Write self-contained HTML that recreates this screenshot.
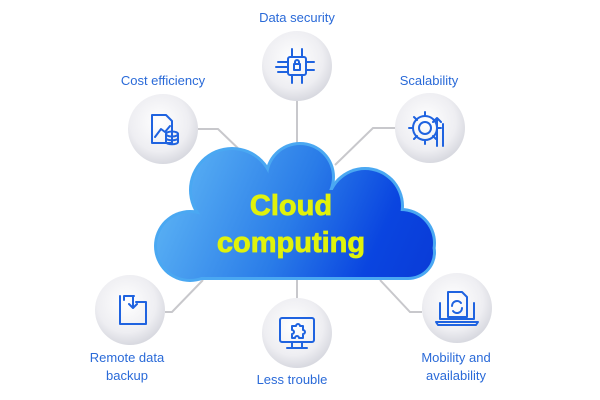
<!DOCTYPE html>
<html><head><meta charset="utf-8"><style>
body{margin:0;background:#fff;width:600px;height:400px;overflow:hidden}
svg{display:block}
.lb{font-family:"Liberation Sans",sans-serif;font-size:13px;fill:#2a6ad8;text-anchor:middle}
.ic{fill:none;stroke:#1f63e0;stroke-width:2;stroke-linecap:round;stroke-linejoin:round}
</style></head><body>
<svg width="600" height="400" viewBox="0 0 600 400">
<defs>
<radialGradient id="cg" cx="0.45" cy="0.4" r="0.6">
<stop offset="0" stop-color="#ffffff"/><stop offset="0.7" stop-color="#eeeef2"/><stop offset="1" stop-color="#d8d9e0"/>
</radialGradient>
<linearGradient id="bg" x1="160" y1="150" x2="430" y2="270" gradientUnits="userSpaceOnUse">
<stop offset="0" stop-color="#62baf6"/><stop offset="0.5" stop-color="#2a7ce8"/><stop offset="0.8" stop-color="#0a45e0"/><stop offset="1" stop-color="#0a3cd8"/>
</linearGradient>
</defs>
<g stroke="#c8c8cc" stroke-width="2" fill="none">
<polyline points="198,129 218,129 245,155"/>
<line x1="297" y1="101" x2="297" y2="150"/>
<polyline points="395,128 373,128 335,165"/>
<polyline points="165,312 172,312 203,280"/>
<line x1="297" y1="275" x2="297" y2="298"/>
<polyline points="380,280 410,312 422,312"/>
</g>
<g fill="#4aa8f2">
<circle cx="190" cy="246" r="36"/><circle cx="232" cy="190" r="43"/><circle cx="300" cy="177" r="35"/><circle cx="365" cy="206" r="39"/><circle cx="401" cy="243" r="35"/><rect x="157" y="225" width="279" height="55" rx="28"/><rect x="200" y="190" width="180" height="60"/>
</g>
<g fill="url(#bg)">
<circle cx="190" cy="246" r="33"/><circle cx="232" cy="190" r="40"/><circle cx="300" cy="177" r="32"/><circle cx="365" cy="206" r="36"/><circle cx="401" cy="243" r="32"/><rect x="160" y="228" width="273" height="49" rx="25"/><rect x="200" y="190" width="180" height="60"/>
</g>
<text x="291" y="215" font-family="Liberation Sans,sans-serif" font-weight="bold" font-size="29" fill="#e0f20c" text-anchor="middle" stroke="#e0f20c" stroke-width="0.8">Cloud</text>
<text x="291" y="252" font-family="Liberation Sans,sans-serif" font-weight="bold" font-size="29" fill="#e0f20c" text-anchor="middle" stroke="#e0f20c" stroke-width="0.8">computing</text>
<g fill="url(#cg)">
<circle cx="297" cy="66" r="35"/><circle cx="163" cy="129" r="35"/><circle cx="430" cy="128" r="35"/>
<circle cx="130" cy="310" r="35"/><circle cx="297" cy="333" r="35"/><circle cx="457" cy="308" r="35"/>
</g>
<g class="ic">
<rect x="288" y="57" width="18" height="18" rx="2"/><rect x="294" y="64" width="6" height="6"/><path d="M295 64v-2a2 2 0 0 1 4 0v2"/>
<path d="M292 57v-8M302 57v-8M292 75v8M302 75v8M278 62h10M276 67h12M278 72h10M306 62h8M306 70h8"/>
<path d="M152 115h14l6 6v22h-20z"/><path d="M155 137l6-8 4 3 5-6"/><ellipse cx="172" cy="134" rx="6" ry="2.5"/><path d="M166 134v8c0 3 12 3 12 0v-8M166 138c0 3 12 3 12 0"/>
<circle cx="425" cy="128" r="6"/><path d="M425 112v4M425 140v4M409 128h4M437 128h4M414 117l3 3M433 136l3 3M414 139l3-3"/><circle cx="425" cy="128" r="12"/><path d="M437 146v-28l-4 4M437 118l4 4M443 146v-22"/>
<path d="M120 296v28h26v-22h-10M124 300v-4h10M133 296v12l-4-4M133 308l4-4"/>
<rect x="280" y="318" width="34" height="24" rx="2"/><path d="M292 342v5M302 342v5M287 348h20"/><path d="M292 326h4a2 2 0 0 1 4 0h3v4a2 2 0 0 1 0 4v4h-4a2 2 0 0 0-4 0h-3v-4a2 2 0 0 0 0-4z"/>
<path d="M440 303v16h34v-16M436 322h42l-2 3h-38z"/><path d="M448 292h14l5 5v20h-19z"/><path d="M452 306a5 5 0 0 1 9-3M462 308a5 5 0 0 1-9 3"/>
</g>
<text class="lb" x="297" y="22">Data security</text>
<text class="lb" x="163" y="85">Cost efficiency</text>
<text class="lb" x="429" y="85">Scalability</text>
<text class="lb" x="127" y="362">Remote data</text>
<text class="lb" x="127" y="380">backup</text>
<text class="lb" x="292" y="384">Less trouble</text>
<text class="lb" x="456" y="362">Mobility and</text>
<text class="lb" x="456" y="380">availability</text>
</svg>
</body></html>
